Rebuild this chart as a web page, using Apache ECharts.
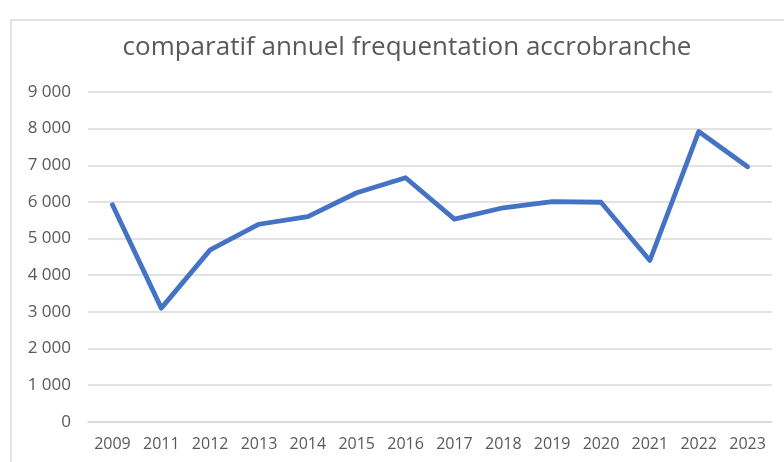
<!DOCTYPE html>
<html><head><meta charset="utf-8">
<script src="https://cdn.jsdelivr.net/npm/echarts@6/dist/echarts.min.js"></script>
<style>html,body{margin:0;padding:0;background:#fff}#c{width:784px;height:462px}</style>
</head><body><div id="c"></div>
<script>
const titleText = "comparatif annuel frequentation accrobranche";
const years = ["2009","2011","2012","2013","2014","2015","2016","2017","2018","2019","2020","2021","2022","2023"];
const visitors = [5920, 3100, 4690, 5390, 5600, 6250, 6660, 5530, 5840, 6010, 5990, 4400, 7920, 6960];
const yMin = 0, yMax = 9000, yStep = 1000;

const chart = echarts.init(document.getElementById('c'), null, {renderer:'canvas'});
const font = "'Open Sans', 'Liberation Sans', sans-serif";
chart.setOption({
  animation:false,
  backgroundColor:'#fff',
  graphic:[{type:'rect', shape:{x:11,y:20,width:800,height:500}, style:{fill:'none', stroke:'#d9d9d9', lineWidth:1.5}, silent:true}],
  title:{text:titleText, left:402, textAlign:'center', top:30,
    textStyle:{fontFamily:font, fontSize:26, fontWeight:'normal', color:'#595959'}},
  grid:{left:88, right:12, top:92, bottom:40.3, containLabel:false},
  xAxis:{type:'category', data:years, boundaryGap:true,
    axisLine:{show:true, lineStyle:{color:'#d9d9d9', width:1.5}}, axisTick:{show:false},
    axisLabel:{fontFamily:font, fontSize:16, color:'#595959', margin:15, interval:0}},
  yAxis:{type:'value', min:yMin, max:yMax, interval:yStep,
    axisLine:{show:false}, axisTick:{show:false},
    splitLine:{lineStyle:{color:'#d9d9d9', width:1.5}},
    axisLabel:{fontFamily:font, fontSize:17, color:'#595959', margin:17,
      formatter:v=>String(v).replace(/\B(?=(\d{3})+(?!\d))/g,' ')}},
  series:[{type:'line', data:visitors, symbol:'none', smooth:false,
    lineStyle:{color:'#4472C4', width:4.8, cap:'round', join:'round'}}]
});
</script></body></html>
